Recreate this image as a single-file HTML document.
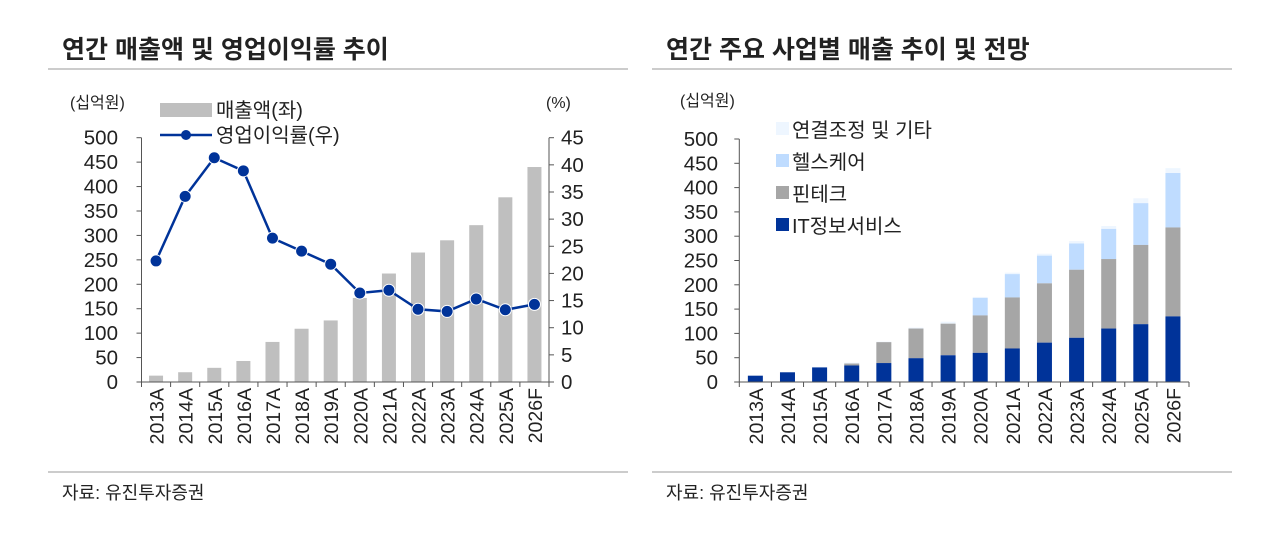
<!DOCTYPE html>
<html><head><meta charset="utf-8"><style>
body{margin:0;background:#fff;}
svg text{font-family:"Liberation Sans","Noto Sans CJK KR",sans-serif;fill:#222;}
</style></head><body>
<svg width="1280" height="532" xmlns="http://www.w3.org/2000/svg">
<text x="62" y="58" font-size="25" font-weight="bold" fill="#111">연간 매출액 및 영업이익률 추이</text>
<text x="666" y="58" font-size="25" font-weight="bold" fill="#111">연간 주요 사업별 매출 추이 및 전망</text>
<line x1="48" y1="69" x2="628" y2="69" stroke="#ccc" stroke-width="2"/>
<line x1="652" y1="69" x2="1232" y2="69" stroke="#ccc" stroke-width="2"/>
<line x1="48" y1="472" x2="628" y2="472" stroke="#ccc" stroke-width="2"/>
<line x1="652" y1="472" x2="1232" y2="472" stroke="#ccc" stroke-width="2"/>
<text x="62" y="499" font-size="18">자료: 유진투자증권</text>
<text x="666" y="499" font-size="18">자료: 유진투자증권</text>
<g id="left"></g><g id="right"></g>
</svg>
<script>
const NS="http://www.w3.org/2000/svg";
function el(p,t,a,txt){const e=document.createElementNS(NS,t);for(const k in a)e.setAttribute(k,a[k]);if(txt!==undefined)e.textContent=txt;p.appendChild(e);return e;}
const yrs=["2013A","2014A","2015A","2016A","2017A","2018A","2019A","2020A","2021A","2022A","2023A","2024A","2025A","2026F"];
let L=document.getElementById('left');
let x0=141.5,x1=549,y0=382,ytop=137.7,sw=(x1-x0)/14;
const sy=v=>y0-(v/500)*(y0-ytop), sr=v=>y0-(v/45)*(y0-ytop);
el(L,'text',{x:70,y:108,'font-size':16},'(십억원)');
el(L,'text',{x:546,y:108,'font-size':16},'(%)');
for(let i=0;i<=10;i++){let v=i*50,y=sy(v);el(L,'text',{x:118,y:y+7,'font-size':20.5,'text-anchor':'end'},v);el(L,'line',{x1:x0-5,y1:y,x2:x0,y2:y,stroke:'#555'});}
for(let i=0;i<=9;i++){let v=i*5,y=sr(v);el(L,'text',{x:561,y:y+7,'font-size':20.5},v);el(L,'line',{x1:x1,y1:y,x2:x1+5,y2:y,stroke:'#555'});}
const rev=[13,20,29,43,82,109,126,172,222,265,290,321,378,440];
const opm=[22.3,34.2,41.3,38.9,26.5,24.1,21.7,16.4,16.9,13.4,13,15.3,13.3,14.3];
rev.forEach((v,i)=>{let cx=x0+sw*(i+.5);el(L,'rect',{x:cx-7,y:sy(v),width:14,height:y0-sy(v),fill:'#bfbfbf'});});
el(L,'line',{x1:x0,y1:ytop,x2:x0,y2:y0,stroke:'#555'});
el(L,'line',{x1:x1,y1:ytop,x2:x1,y2:y0,stroke:'#555'});
el(L,'line',{x1:x0-5,y1:y0,x2:x1+5,y2:y0,stroke:'#555'});
for(let i=0;i<=14;i++){let x=x0+sw*i;el(L,'line',{x1:x,y1:y0,x2:x,y2:y0+5,stroke:'#555'});}
el(L,'polyline',{points:opm.map((v,i)=>(x0+sw*(i+.5))+','+sr(v)).join(' '),fill:'none',stroke:'#003399','stroke-width':2.5});
opm.forEach((v,i)=>el(L,'circle',{cx:x0+sw*(i+.5),cy:sr(v),r:6,fill:'#003399',stroke:'#fff','stroke-width':1}));
yrs.forEach((t,i)=>{let cx=x0+sw*(i+.5)+7.5;el(L,'text',{x:0,y:0,'font-size':19.5,'text-anchor':'end',transform:`translate(${cx},388) rotate(-90)`},t);});
el(L,'rect',{x:160,y:103,width:52,height:14,fill:'#bfbfbf'});
el(L,'text',{x:216,y:117,'font-size':20},'매출액(좌)');
el(L,'line',{x1:160,y1:135,x2:212,y2:135,stroke:'#003399','stroke-width':2.5});
el(L,'circle',{cx:186,cy:135,r:5,fill:'#003399'});
el(L,'text',{x:216,y:142,'font-size':20},'영업이익률(우)');
let R=document.getElementById('right');
let a0=739.3,a1=1189,b0=382,bt=139,w=(a1-a0)/14;
const ry=v=>b0-(v/500)*(b0-bt);
el(R,'text',{x:680,y:106,'font-size':16},'(십억원)');
for(let i=0;i<=10;i++){let v=i*50,y=ry(v);el(R,'text',{x:718,y:y+7,'font-size':20.5,'text-anchor':'end'},v);el(R,'line',{x1:a0-5,y1:y,x2:a0,y2:y,stroke:'#555'});}
const it=[13,20,30,34,39,49,55,60,69,81,91,110,119,135];
const ft=[13,20,30,38,82,110,120,137,174,203,231,253,282,318];
const hc=[13,20,30,38,82,110,120,173,222,260,285,315,368,430];
const ot=[13,20,31,40,83,112,124,175,225,264,290,321,378,440];
it.forEach((v,i)=>{let cx=a0+w*(i+.5),bx=cx-7.5;
 el(R,'rect',{x:bx,y:ry(ot[i]),width:15,height:ry(hc[i])-ry(ot[i]),fill:'#eef6ff'});
 el(R,'rect',{x:bx,y:ry(hc[i]),width:15,height:ry(ft[i])-ry(hc[i]),fill:'#bfdcff'});
 el(R,'rect',{x:bx,y:ry(ft[i]),width:15,height:ry(v)-ry(ft[i]),fill:'#a6a6a6'});
 el(R,'rect',{x:bx,y:ry(v),width:15,height:b0-ry(v),fill:'#003399'});
});
el(R,'line',{x1:a0,y1:bt,x2:a0,y2:b0,stroke:'#555'});
el(R,'line',{x1:a0-5,y1:b0,x2:a1,y2:b0,stroke:'#555'});
for(let i=0;i<=14;i++){let x=a0+w*i;el(R,'line',{x1:x,y1:b0,x2:x,y2:b0+5,stroke:'#555'});}
yrs.forEach((t,i)=>{let cx=a0+w*(i+.5)+7.5;el(R,'text',{x:0,y:0,'font-size':19.5,'text-anchor':'end',transform:`translate(${cx},388) rotate(-90)`},t);});
[['#eef6ff','연결조정 및 기타',130],['#bfdcff','헬스케어',162],['#a6a6a6','핀테크',194],['#003399','IT정보서비스',226]].forEach(([c,t,y])=>{
 el(R,'rect',{x:776,y:y-8,width:13,height:13,fill:c});
 el(R,'text',{x:792,y:y+7,'font-size':20},t);
});
</script>
</body></html>
